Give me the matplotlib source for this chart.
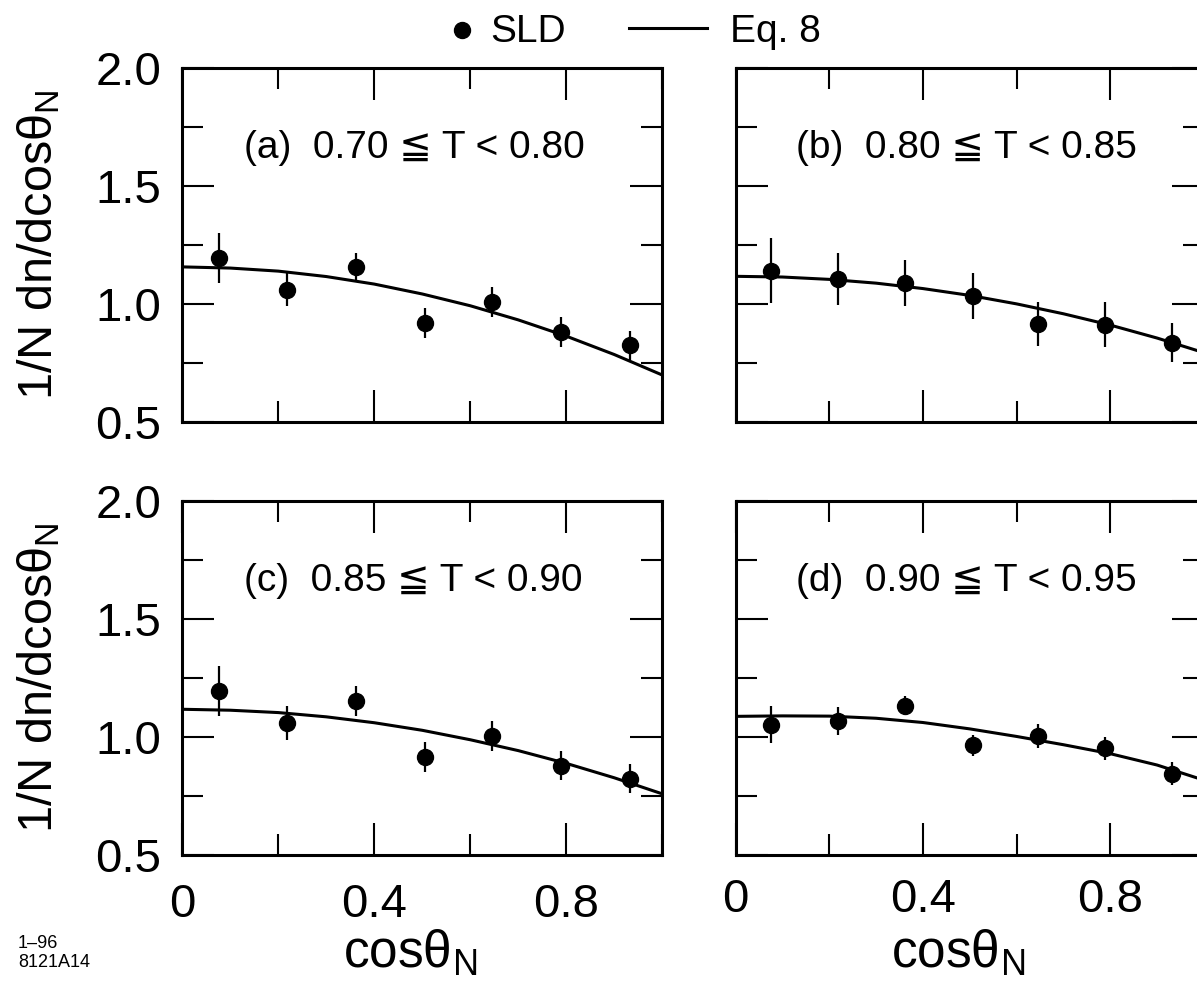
import numpy as np
import matplotlib
matplotlib.use("Agg")
import matplotlib.pyplot as plt
from matplotlib.lines import Line2D
from matplotlib.ticker import MultipleLocator

plt.rcParams['font.family'] = ['Liberation Sans', 'DejaVu Sans']
plt.rcParams['mathtext.fontset'] = 'custom'
plt.rcParams['mathtext.rm'] = 'Liberation Sans'
plt.rcParams['mathtext.it'] = 'Liberation Sans:italic'

# bin centres in cos(theta_N)
cos_bins = [0.076, 0.219, 0.362, 0.506, 0.646, 0.789, 0.932]

# SLD points and errors, one list per thrust bin
sld_a = [1.195, 1.061, 1.157, 0.919, 1.008, 0.881, 0.825]
err_a = [0.105, 0.070, 0.060, 0.062, 0.062, 0.062, 0.062]
sld_b = [1.140, 1.107, 1.090, 1.032, 0.914, 0.912, 0.836]
err_b = [0.138, 0.110, 0.098, 0.097, 0.094, 0.095, 0.082]
sld_c = [1.195, 1.060, 1.154, 0.917, 1.005, 0.880, 0.825]
err_c = [0.105, 0.072, 0.063, 0.063, 0.062, 0.062, 0.060]
sld_d = [1.053, 1.067, 1.133, 0.965, 1.006, 0.953, 0.845]
err_d = [0.079, 0.059, 0.040, 0.043, 0.050, 0.048, 0.048]

# Eq. 8 curve
curve_x = [0.0, 0.1, 0.2, 0.3, 0.4, 0.5, 0.6, 0.7, 0.8, 0.9, 1.0]
eq8_a = [1.157, 1.152, 1.139, 1.116, 1.084, 1.042, 0.992, 0.932, 0.863, 0.785, 0.698]
eq8_b = [1.117, 1.114, 1.104, 1.088, 1.065, 1.036, 1.000, 0.958, 0.910, 0.855, 0.793]
eq8_c = [1.118, 1.114, 1.104, 1.086, 1.061, 1.029, 0.989, 0.943, 0.889, 0.828, 0.760]
eq8_d = [1.088, 1.090, 1.089, 1.080, 1.062, 1.035, 1.003, 0.968, 0.930, 0.882, 0.818]

labels = ["(a)  0.70 \u2266 T < 0.80", "(b)  0.80 \u2266 T < 0.85",
          "(c)  0.85 \u2266 T < 0.90", "(d)  0.90 \u2266 T < 0.95"]

panels = [
    (sld_a, err_a, eq8_a, labels[0], [0.1523, 0.5749, 0.4010, 0.3563]),
    (sld_b, err_b, eq8_b, labels[1], [0.6145, 0.5749, 0.3913, 0.3563]),
    (sld_c, err_c, eq8_c, labels[2], [0.1523, 0.1378, 0.4010, 0.3573]),
    (sld_d, err_d, eq8_d, labels[3], [0.6145, 0.1378, 0.3913, 0.3573]),
]

fig = plt.figure(figsize=(11.97, 9.92), dpi=100)

for i, (y, e, c, lab, rect) in enumerate(panels):
    ax = fig.add_axes(rect)
    ax.plot(curve_x, c, color="black", lw=2.2, zorder=2)
    ax.errorbar(cos_bins, y, yerr=e, fmt="o", color="black", ms=11.5,
                elinewidth=1.6, capsize=0, zorder=3)
    ax.set_xlim(0, 1)
    ax.set_ylim(0.5, 2.0)
    ax.xaxis.set_major_locator(MultipleLocator(0.4))
    ax.xaxis.set_minor_locator(MultipleLocator(0.2))
    ax.yaxis.set_major_locator(MultipleLocator(0.5))
    ax.yaxis.set_minor_locator(MultipleLocator(0.25))
    ax.set_xticks([0, 0.4, 0.8])
    ax.set_xticklabels(["0", "0.4", "0.8"])
    ax.set_yticks([0.5, 1.0, 1.5, 2.0])
    ax.set_yticklabels(["0.5", "1.0", "1.5", "2.0"])
    for s in ax.spines.values():
        s.set_linewidth(2.2)
    ax.tick_params(which="both", direction="in", top=True, right=True,
                   width=1.5, labelsize=34)
    ax.tick_params(which="major", length=23)
    ax.tick_params(which="minor", length=15)
    ax.tick_params(axis="y", pad=15)
    ax.tick_params(axis="x", pad=20 if i == 2 else 16)
    if i < 2:
        ax.tick_params(axis="x", labelbottom=False)
    if i in (1, 3):
        ax.tick_params(axis="y", labelleft=False)
    else:
        ax.set_ylabel("1/N dn/dcos\u03b8$_\\mathrm{N}$", fontsize=35)
        ax.yaxis.set_label_coords(-0.25, 0.5)
    if i >= 2:
        ax.set_xlabel("cos\u03b8$_\\mathrm{N}$", fontsize=37)
        ax.xaxis.set_label_coords(0.475, -0.205)
    ax.text(0.128, 0.745, lab, transform=ax.transAxes, fontsize=28,
            va="baseline", ha="left")

# legend drawn along the top
fig.add_artist(Line2D([462 / 1197], [1 - 30 / 992], marker="o", ms=11.5,
                      color="black", transform=fig.transFigure))
fig.text(490 / 1197, 1 - 42 / 992, "SLD", fontsize=28, va="baseline")
fig.add_artist(Line2D([629 / 1197, 707 / 1197], [1 - 28 / 992, 1 - 28 / 992],
                      lw=2.2, color="black", transform=fig.transFigure))
fig.text(730 / 1197, 1 - 42 / 992, "Eq. 8", fontsize=28, va="baseline")

fig.text(18 / 1197, 1 - 948 / 992, "1\u201396", fontsize=13, va="baseline")
fig.text(18 / 1197, 1 - 967 / 992, "8121A14", fontsize=13, va="baseline")

fig.savefig("out.png", dpi=100)
